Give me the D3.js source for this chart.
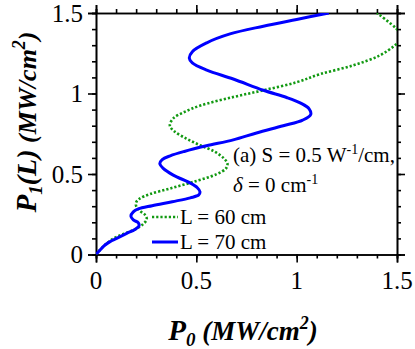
<!DOCTYPE html>
<html>
<head>
<meta charset="utf-8">
<script src="https://cdn.jsdelivr.net/npm/d3@7"></script>
<style>
  body { margin: 0; background: #fff; }
</style>
</head>
<body>
<svg id="chart" width="415" height="349"></svg>
<script>
// L = 70 cm (blue, solid)
let blueX = [0, 0.02, 0.045, 0.07, 0.103, 0.153, 0.194, 0.214, 0.211, 0.186, 0.174, 0.186, 0.211, 0.28, 0.38, 0.47, 0.512, 0.518, 0.505, 0.468, 0.385, 0.335, 0.318, 0.33, 0.37, 0.44, 0.55, 0.684, 0.8, 0.933, 1.03, 1.07, 1.062, 1.02, 0.95, 0.834, 0.684, 0.552, 0.48, 0.465, 0.48, 0.552, 0.668, 0.834, 1.0, 1.16];
let blueY = [0, 0.028, 0.059, 0.08, 0.10, 0.131, 0.156, 0.177, 0.197, 0.215, 0.238, 0.265, 0.283, 0.303, 0.328, 0.352, 0.37, 0.39, 0.415, 0.445, 0.493, 0.535, 0.565, 0.59, 0.613, 0.64, 0.675, 0.712, 0.755, 0.8, 0.835, 0.87, 0.905, 0.94, 0.975, 1.02, 1.09, 1.145, 1.19, 1.22, 1.26, 1.315, 1.37, 1.418, 1.46, 1.5];
// L = 60 cm (green, dotted)
let greenX = [0, 0.02, 0.045, 0.07, 0.103, 0.153, 0.203, 0.236, 0.253, 0.245, 0.222, 0.202, 0.199, 0.215, 0.269, 0.369, 0.485, 0.601, 0.648, 0.655, 0.635, 0.59, 0.518, 0.45, 0.39, 0.368, 0.385, 0.44, 0.52, 0.684, 0.834, 1.0, 1.116, 1.282, 1.415, 1.49, 1.53, 1.495, 1.40];
let greenY = [0, 0.028, 0.06, 0.085, 0.11, 0.135, 0.162, 0.19, 0.22, 0.245, 0.268, 0.295, 0.32, 0.345, 0.375, 0.41, 0.451, 0.499, 0.535, 0.565, 0.6, 0.64, 0.679, 0.72, 0.765, 0.8, 0.845, 0.885, 0.925, 0.978, 1.02, 1.07, 1.12, 1.175, 1.237, 1.30, 1.35, 1.405, 1.5];

let xTicks = [0, 0.5, 1, 1.5];
let yTicks = [0, 0.5, 1, 1.5];
let xTickLabels = ['0', '0.5', '1', '1.5'];
let yTickLabels = ['0', '0.5', '1', '1.5'];
let minorTicks = d3.range(0, 1.5001, 0.1);

const svg = d3.select('#chart').style('font-family', 'Liberation Serif');
const pLeft = 96, pRight = 397, pTop = 13, pBottom = 254.5;

let x = d3.scaleLinear().domain([0, 1.5]).range([pLeft, pRight]);
let y = d3.scaleLinear().domain([0, 1.5]).range([pBottom, pTop]);

svg.append('clipPath').attr('id', 'clip')
  .append('rect')
  .attr('x', pLeft).attr('y', pTop)
  .attr('width', pRight - pLeft).attr('height', pBottom - pTop);

// axes: minor ticks, then major ticks (all outward)
function drawAxis(axisFn, scale, tr, vals, size) {
  svg.append('g')
    .attr('transform', tr)
    .call(axisFn(scale).tickValues(vals).tickSize(size).tickFormat(''))
    .call(g => g.selectAll('line').attr('stroke', '#000').attr('stroke-width', 1.6))
    .call(g => g.select('.domain').attr('stroke', '#000').attr('stroke-width', 1.6));
}
drawAxis(d3.axisBottom, x, 'translate(0,' + pBottom + ')', minorTicks, 4);
drawAxis(d3.axisBottom, x, 'translate(0,' + pBottom + ')', xTicks, 8);
drawAxis(d3.axisTop, x, 'translate(0,' + pTop + ')', minorTicks, 4);
drawAxis(d3.axisTop, x, 'translate(0,' + pTop + ')', xTicks, 8);
drawAxis(d3.axisLeft, y, 'translate(' + pLeft + ',0)', minorTicks, 4);
drawAxis(d3.axisLeft, y, 'translate(' + pLeft + ',0)', yTicks, 8);
drawAxis(d3.axisRight, y, 'translate(' + pRight + ',0)', minorTicks, 4);
drawAxis(d3.axisRight, y, 'translate(' + pRight + ',0)', yTicks, 8);

// tick labels
svg.append('g').selectAll('text').data(xTicks).join('text')
  .attr('x', d => x(d)).attr('y', 289)
  .attr('text-anchor', 'middle')
  .style('font-size', '25px')
  .text((d, i) => xTickLabels[i]);

svg.append('g').selectAll('text').data(yTicks).join('text')
  .attr('x', 83).attr('y', d => y(d)).attr('dy', '0.35em')
  .attr('text-anchor', 'end')
  .style('font-size', '25px')
  .text((d, i) => yTickLabels[i]);

// curves
let line = d3.line()
  .x(d => x(d[0]))
  .y(d => y(d[1]))
  .curve(d3.curveCatmullRom.alpha(0.5));

let plot = svg.append('g').attr('clip-path', 'url(#clip)');

plot.append('path')
  .datum(greenX.map((v, i) => [v, greenY[i]]))
  .attr('fill', 'none')
  .attr('stroke', '#119911')
  .attr('stroke-width', 2.6)
  .attr('stroke-dasharray', '2.2,2')
  .attr('d', line);

plot.append('path')
  .datum(blueX.map((v, i) => [v, blueY[i]]))
  .attr('fill', 'none')
  .attr('stroke', '#0000ff')
  .attr('stroke-width', 3)
  .attr('d', line);

// legend
svg.append('line')
  .attr('x1', 152).attr('x2', 178).attr('y1', 217).attr('y2', 217)
  .attr('stroke', '#119911').attr('stroke-width', 2.6).attr('stroke-dasharray', '2.2,2');
svg.append('text').attr('x', 180).attr('y', 224).style('font-size', '21px').text('L = 60 cm');
svg.append('line')
  .attr('x1', 152).attr('x2', 178).attr('y1', 242).attr('y2', 242)
  .attr('stroke', '#0000ff').attr('stroke-width', 3);
svg.append('text').attr('x', 180).attr('y', 249).style('font-size', '21px').text('L = 70 cm');

// annotation
let ann1 = svg.append('text').attr('x', 233).attr('y', 162).style('font-size', '21px');
ann1.append('tspan').text('(a) S = 0.5 W');
ann1.append('tspan').style('font-size', '14px').attr('dy', -8).text('-1');
ann1.append('tspan').attr('dy', 8).text('/cm,');

let ann2 = svg.append('text').attr('x', 233).attr('y', 192).style('font-size', '21px');
ann2.append('tspan').style('font-style', 'italic').text('δ');
ann2.append('tspan').text(' = 0 cm');
ann2.append('tspan').style('font-size', '14px').attr('dy', -8).text('-1');

// axis titles
let xt = svg.append('text')
  .attr('x', 243).attr('y', 340)
  .attr('text-anchor', 'middle')
  .style('font-weight', 'bold').style('font-style', 'italic')
  .style('font-size', '27px');
xt.append('tspan').style('font-size', '29px').text('P');
xt.append('tspan').style('font-size', '19px').attr('dy', 6).text('0');
xt.append('tspan').attr('dy', -6).text(' (MW/cm');
xt.append('tspan').style('font-size', '18px').attr('dy', -11).text('2');
xt.append('tspan').attr('dy', 11).text(')');

let yt = svg.append('text')
  .attr('transform', 'translate(36,122) rotate(-90)')
  .attr('text-anchor', 'middle')
  .style('font-weight', 'bold').style('font-style', 'italic')
  .style('font-size', '26px');
yt.append('tspan').style('font-size', '29px').text('P');
yt.append('tspan').style('font-size', '19px').attr('dy', 6).text('1');
yt.append('tspan').style('font-size', '28px').attr('dy', -6).text('(L)');
yt.append('tspan').text(' (MW/cm');
yt.append('tspan').style('font-size', '18px').attr('dy', -11).text('2');
yt.append('tspan').attr('dy', 11).text(')');
</script>
</body>
</html>
